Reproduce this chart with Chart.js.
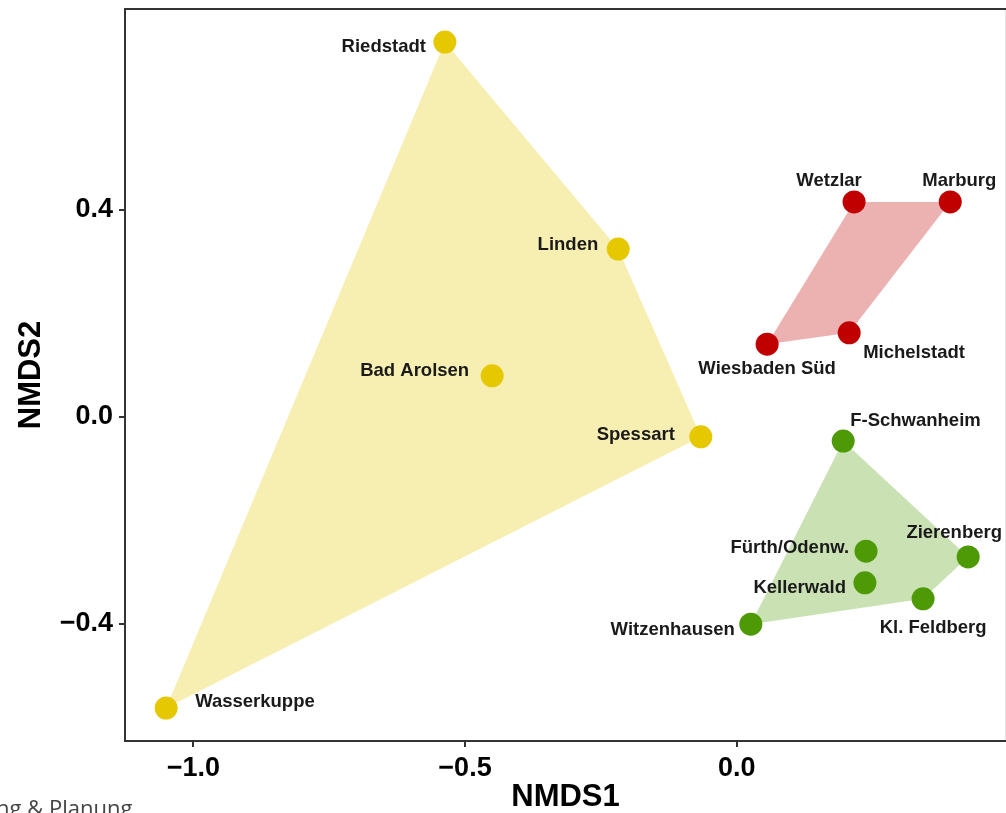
<!DOCTYPE html>
<html><head><meta charset="utf-8">
<script src="https://cdn.jsdelivr.net/npm/chart.js@4/dist/chart.umd.min.js"></script>
<style>
html,body{margin:0;padding:0;background:#fff;overflow:hidden}
#wrap{position:relative;width:1006px;height:813px}
#caption{position:absolute;left:-4px;top:796px;font:22px/22px "Open Sans";color:#444;white-space:nowrap}
</style></head><body>
<div id="wrap"><canvas id="c"></canvas><div id="caption">ng &amp; Planung</div></div>
<script>
// ---- data ----
const yellowNames = ['Riedstadt', 'Linden', 'Bad Arolsen', 'Spessart', 'Wasserkuppe'];
const yellowX = [-0.537, -0.218, -0.450, -0.066, -1.050];
const yellowY = [0.724, 0.324, 0.079, -0.039, -0.563];

const redNames = ['Wetzlar', 'Marburg', 'Michelstadt', 'Wiesbaden Süd'];
const redX = [0.216, 0.393, 0.207, 0.056];
const redY = [0.415, 0.415, 0.162, 0.140];

const greenNames = ['F-Schwanheim', 'Fürth/Odenw.', 'Kellerwald', 'Zierenberg', 'Kl. Feldberg', 'Witzenhausen'];
const greenX = [0.196, 0.238, 0.236, 0.426, 0.343, 0.026];
const greenY = [-0.047, -0.260, -0.321, -0.271, -0.352, -0.401];

const xTicks = [-1.0, -0.5, 0.0];
const yTicks = [-0.4, 0.0, 0.4];
const xTitle = 'NMDS1';
const yTitle = 'NMDS2';

// ---- styling ----
const groups = [
  {names: yellowNames, xs: yellowX, ys: yellowY, color: '#E6C800', fill: 'rgba(230,200,0,0.30)'},
  {names: redNames, xs: redX, ys: redY, color: '#C00000', fill: 'rgba(192,0,0,0.30)'},
  {names: greenNames, xs: greenX, ys: greenY, color: '#4E9A06', fill: 'rgba(78,154,6,0.30)'}
];
// label placement relative to point: [textAlign, dx, dy]
const labelPlace = {
  'Riedstadt': ['right', -19, 5], 'Linden': ['right', -20, -4], 'Bad Arolsen': ['right', -23, -5],
  'Spessart': ['right', -26, -2], 'Wasserkuppe': ['left', 29, -6],
  'Wetzlar': ['center', -25, -21], 'Marburg': ['center', 9, -21], 'Michelstadt': ['left', 14, 20],
  'Wiesbaden Süd': ['center', 0, 25],
  'F-Schwanheim': ['left', 7, -20], 'Fürth/Odenw.': ['right', -17, -3], 'Kellerwald': ['right', -19, 5],
  'Zierenberg': ['center', -14, -24], 'Kl. Feldberg': ['center', 10, 29], 'Witzenhausen': ['right', -16, 6]
};

function hull(points) {
  const p = points.slice().sort((a, b) => a.x - b.x || a.y - b.y);
  const cross = (o, a, b) => (a.x - o.x) * (b.y - o.y) - (a.y - o.y) * (b.x - o.x);
  const lower = [], upper = [];
  for (const q of p) { while (lower.length >= 2 && cross(lower[lower.length-2], lower[lower.length-1], q) <= 0) lower.pop(); lower.push(q); }
  for (let i = p.length - 1; i >= 0; i--) { const q = p[i]; while (upper.length >= 2 && cross(upper[upper.length-2], upper[upper.length-1], q) <= 0) upper.pop(); upper.push(q); }
  upper.pop(); lower.pop();
  const h = lower.concat(upper);
  h.push(h[0]);
  return h;
}

const datasets = [];
groups.forEach(g => {
  const pts = g.names.map((n, i) => ({x: g.xs[i], y: g.ys[i], name: n}));
  datasets.push({type: 'scatter', data: pts, pointRadius: 11.5, pointHoverRadius: 11.5, pointBorderWidth: 0,
    backgroundColor: g.color, borderColor: g.color, order: 0, isPoints: true});
});
groups.forEach(g => {
  const pts = g.names.map((n, i) => ({x: g.xs[i], y: g.ys[i]}));
  datasets.push({type: 'line', data: hull(pts), fill: 'shape', backgroundColor: g.fill,
    borderWidth: 0, borderColor: 'rgba(0,0,0,0)', pointRadius: 0, tension: 0, order: 5});
});

const fmt = v => (v < 0 ? '\u2212' : '') + Math.abs(v).toFixed(1);
const FONT = 'Liberation Sans, Arial, Helvetica, sans-serif';

const labelPlugin = {
  id: 'pointLabels',
  afterDatasetsDraw(chart) {
    const ctx = chart.ctx;
    ctx.save();
    ctx.font = 'bold 18.5px ' + FONT;
    ctx.fillStyle = '#1a1a1a';
    ctx.textBaseline = 'middle';
    chart.data.datasets.forEach((ds, di) => {
      if (!ds.isPoints) return;
      const meta = chart.getDatasetMeta(di);
      meta.data.forEach((el, i) => {
        const name = ds.data[i].name;
        const pl = labelPlace[name] || ['left', 14, 0];
        ctx.textAlign = pl[0];
        ctx.fillText(name, el.x + pl[1], el.y + pl[2]);
      });
    });
    ctx.restore();
  }
};
const framePlugin = {
  id: 'frame',
  afterDraw(chart) {
    const {ctx, chartArea: a} = chart;
    ctx.save();
    ctx.strokeStyle = '#333';
    ctx.lineWidth = 2;
    ctx.beginPath();
    ctx.moveTo(a.left - 1, a.top);
    ctx.lineTo(a.right, a.top);
    ctx.stroke();
    ctx.strokeStyle = '#e4e4e4';
    ctx.lineWidth = 1;
    ctx.beginPath();
    ctx.moveTo(a.right - 0.5, a.top + 1);
    ctx.lineTo(a.right - 0.5, a.bottom - 1);
    ctx.stroke();
    ctx.restore();
  }
};
const noPad = s => { s.paddingLeft = 0; s.paddingRight = 0; s.paddingTop = 0; s.paddingBottom = 0; };

new Chart(document.getElementById('c'), {
  type: 'scatter',
  data: {datasets},
  plugins: [labelPlugin, framePlugin],
  options: {
    responsive: true, maintainAspectRatio: false, animation: false, events: [],
    layout: {autoPadding: false, padding: {top: 9, right: 0, left: 0, bottom: 0}},
    plugins: {legend: {display: false}, tooltip: {enabled: false}},
    scales: {
      x: {
        type: 'linear', min: -1.1257, max: 0.4956,
        afterBuildTicks: s => { s.ticks = xTicks.map(v => ({value: v})); },
        afterFit: s => { s.height = 72; noPad(s); },
        grid: {drawOnChartArea: false, drawTicks: true, tickLength: 6, color: '#333', lineWidth: 2},
        border: {display: true, color: '#333', width: 2},
        ticks: {font: {family: FONT, weight: 'bold', size: 27}, color: '#000', padding: 5, maxRotation: 0, autoSkip: false,
          callback: v => fmt(v)},
        title: {display: true, text: xTitle, color: '#000', font: {family: FONT, weight: 'bold', size: 31, lineHeight: 1}, padding: {top: 0, bottom: 0}}
      },
      y: {
        type: 'linear', min: -0.6267, max: 0.7878,
        afterBuildTicks: s => { s.ticks = yTicks.map(v => ({value: v})); },
        afterFit: s => { s.width = 125; noPad(s); },
        grid: {drawOnChartArea: false, drawTicks: true, tickLength: 6, color: '#333', lineWidth: 2},
        border: {display: true, color: '#333', width: 2},
        ticks: {font: {family: FONT, weight: 'bold', size: 27}, color: '#000', padding: 6, autoSkip: false,
          callback: v => fmt(v)},
        title: {display: true, text: yTitle, color: '#000', font: {family: FONT, weight: 'bold', size: 31, lineHeight: 1}, padding: {top: 16, bottom: 0}}
      }
    }
  }
});
</script>
</body></html>
